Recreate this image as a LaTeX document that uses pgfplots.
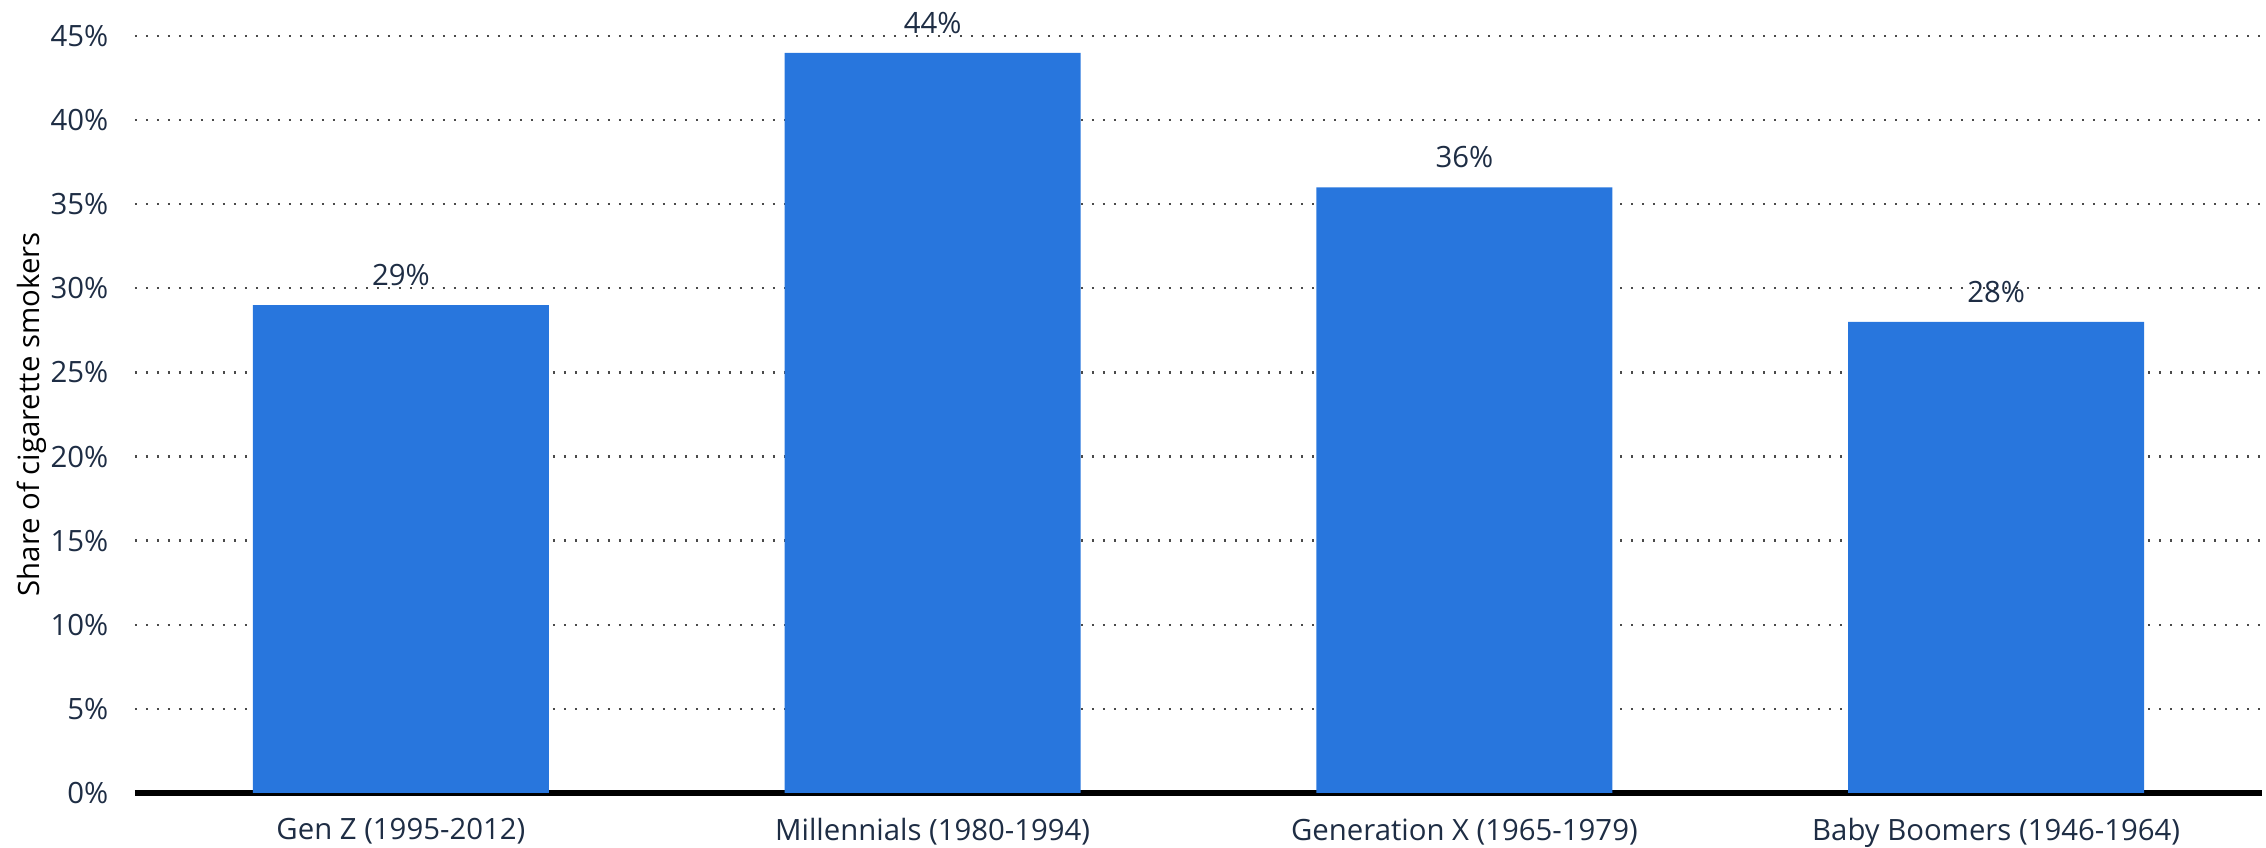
\documentclass[border=0pt]{standalone}
\usepackage{fontspec}
\setmainfont{Open Sans}
\usepackage{pgfplots}
\pgfplotsset{compat=1.18}
\definecolor{barblue}{HTML}{2876DD}
\definecolor{txt}{HTML}{1E2D44}
\definecolor{gridc}{HTML}{4A4A4A}
\begin{document}
\begin{tikzpicture}[font=\fontsize{8.8bp}{10.5bp}\selectfont]
\begin{axis}[
  name=ax,
  scale only axis,
  width=638.1bp, height=227.1bp,
  xmin=-0.5, xmax=3.5,
  ymin=0, ymax=45,
  ytick={0,5,...,45},
  xtick={0,1,2,3},
  xticklabels={Gen Z (1995-2012),Millennials (1980-1994),Generation X (1965-1979),Baby Boomers (1946-1964)},
  /pgf/number format/assume math mode=true,
  yticklabel={\pgfmathprintnumber{\tick}\%},
  yticklabel style={xshift=-4.5bp, text=txt},
  xticklabel style={yshift=-4.2bp, text=txt},
  major tick length=0pt,
  axis x line*=bottom,
  axis y line*=left,
  x axis line style={black, line width=1.6bp, -},
  y axis line style={draw=none},
  ymajorgrids,
  major grid style={gridc, line width=0.7bp, dash pattern=on 0.6bp off 2.7bp},
  ylabel={Share of cigarette smokers},
  ylabel style={text=txt},
  every axis y label/.style={at={(axis description cs:-0.0486,0.5)}, rotate=90, anchor=center},
  clip=false,
]
\addplot[ybar, bar width=0.557, fill=barblue, draw=none,
  nodes near coords={\pgfmathprintnumber{\pgfplotspointmeta}\%},
  nodes near coords style={text=txt, anchor=south, yshift=2.3bp}]
  coordinates {(0,29) (1,44) (2,36) (3,28)};
\end{axis}
\pgfresetboundingbox
\path ([shift={(-40.5bp,-16.5bp)}]ax.south west) rectangle ([shift={(1.2bp,10.8bp)}]ax.north east);
\end{tikzpicture}
\end{document}
